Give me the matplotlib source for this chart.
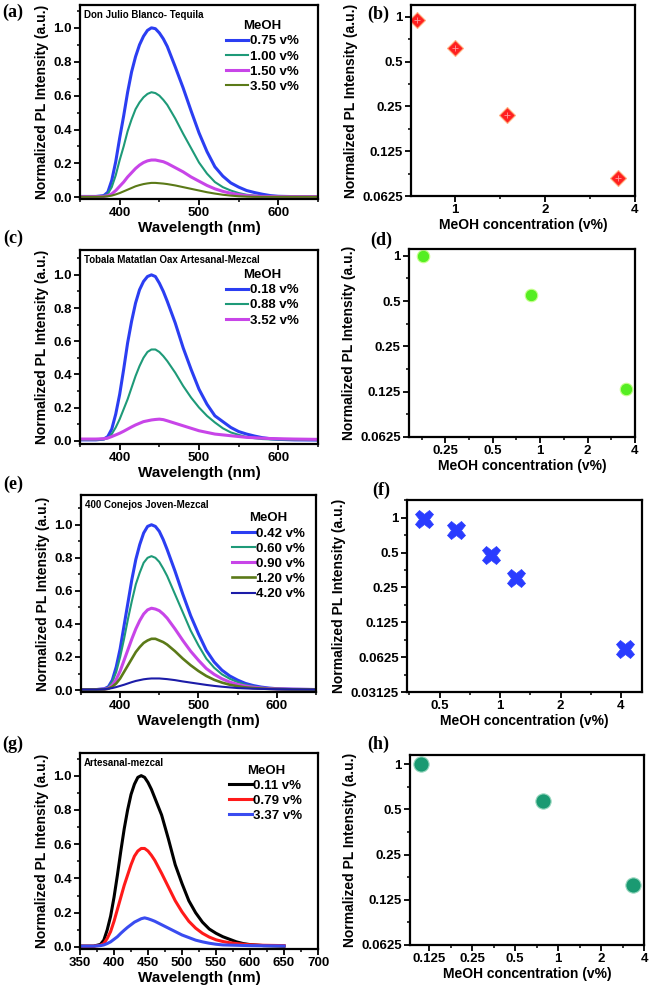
#!/usr/bin/env python3
# plot.py: PL quenching of spirits vs MeOH content (spectra + log-log intensity)

import matplotlib
matplotlib.use("Agg")
import matplotlib.pyplot as plt
from matplotlib.ticker import MultipleLocator, FixedLocator, NullFormatter

# ---- data ----
wl = [350, 360, 370, 380, 385, 390, 395, 400, 405, 410, 415, 420, 425, 430, 435, 440, 445, 450,
      455, 460, 470, 480, 490, 500, 510, 520, 530, 540, 550, 560, 570, 580, 590, 600, 620, 650]

# (a) Don Julio Blanco - Tequila
a_labels = ['0.75 v%', '1.00 v%', '1.50 v%', '3.50 v%']
a_075 = [0.005, 0.005, 0.005, 0.01, 0.03, 0.10, 0.21, 0.35, 0.48, 0.62, 0.74, 0.83, 0.90, 0.95, 0.985, 1.0, 0.995, 0.97,
         0.935, 0.89, 0.77, 0.645, 0.51, 0.38, 0.27, 0.18, 0.125, 0.085, 0.06, 0.04, 0.028, 0.018, 0.01, 0.006, 0.004, 0.003]
a_100 = [0.005, 0.005, 0.005, 0.008, 0.02, 0.06, 0.13, 0.22, 0.30, 0.39, 0.46, 0.52, 0.56, 0.59, 0.61, 0.62, 0.615, 0.60,
         0.575, 0.545, 0.465, 0.375, 0.29, 0.205, 0.14, 0.09, 0.06, 0.04, 0.025, 0.015, 0.01, 0.006, 0.005, 0.004, 0.004, 0.003]
a_150 = [0.004, 0.004, 0.004, 0.005, 0.01, 0.02, 0.04, 0.065, 0.09, 0.12, 0.145, 0.17, 0.19, 0.205, 0.215, 0.22, 0.22, 0.215,
         0.21, 0.20, 0.175, 0.15, 0.12, 0.095, 0.07, 0.05, 0.035, 0.024, 0.016, 0.01, 0.007, 0.005, 0.005, 0.004, 0.004, 0.004]
a_350 = [0.003, 0.003, 0.003, 0.004, 0.006, 0.01, 0.017, 0.025, 0.035, 0.045, 0.055, 0.065, 0.072, 0.078, 0.082, 0.085, 0.085, 0.083,
         0.081, 0.078, 0.07, 0.06, 0.05, 0.04, 0.03, 0.022, 0.015, 0.01, 0.006, 0.004, 0.003, 0.003, 0.003, 0.003, 0.003, 0.003]

# (c) Tobala Matatlan Oax Artesanal - Mezcal
c_labels = ['0.18 v%', '0.88 v%', '3.52 v%']
c_018 = [0.005, 0.005, 0.005, 0.01, 0.025, 0.07, 0.16, 0.28, 0.43, 0.59, 0.72, 0.83, 0.91, 0.96, 0.99, 1.0, 0.99, 0.95,
         0.90, 0.84, 0.71, 0.56, 0.43, 0.31, 0.22, 0.15, 0.115, 0.08, 0.055, 0.04, 0.028, 0.018, 0.012, 0.008, 0.005, 0.004]
c_088 = [0.005, 0.005, 0.005, 0.008, 0.015, 0.04, 0.08, 0.13, 0.19, 0.25, 0.32, 0.39, 0.45, 0.50, 0.535, 0.55, 0.55, 0.535,
         0.51, 0.48, 0.41, 0.33, 0.26, 0.20, 0.15, 0.11, 0.075, 0.05, 0.035, 0.022, 0.015, 0.01, 0.008, 0.007, 0.005, 0.004]
c_352 = [0.01, 0.01, 0.01, 0.012, 0.016, 0.025, 0.035, 0.045, 0.057, 0.07, 0.083, 0.095, 0.105, 0.115, 0.12, 0.125, 0.128, 0.13,
         0.127, 0.12, 0.105, 0.09, 0.075, 0.06, 0.05, 0.04, 0.035, 0.03, 0.025, 0.02, 0.018, 0.015, 0.013, 0.012, 0.01, 0.008]

# (e) 400 Conejos Joven - Mezcal
e_labels = ['0.42 v%', '0.60 v%', '0.90 v%', '1.20 v%', '4.20 v%']
e_042 = [0.003, 0.003, 0.003, 0.008, 0.02, 0.06, 0.14, 0.25, 0.39, 0.53, 0.67, 0.79, 0.88, 0.95, 0.99, 1.0, 0.99, 0.96,
         0.91, 0.85, 0.72, 0.58, 0.45, 0.34, 0.24, 0.17, 0.12, 0.085, 0.06, 0.04, 0.027, 0.018, 0.012, 0.008, 0.005, 0.003]
e_060 = [0.003, 0.003, 0.003, 0.006, 0.016, 0.05, 0.11, 0.20, 0.31, 0.43, 0.54, 0.64, 0.71, 0.77, 0.80, 0.81, 0.80, 0.775,
         0.735, 0.69, 0.58, 0.47, 0.36, 0.27, 0.19, 0.135, 0.095, 0.068, 0.048, 0.032, 0.022, 0.015, 0.01, 0.007, 0.004, 0.003]
e_090 = [0.003, 0.003, 0.003, 0.005, 0.01, 0.03, 0.065, 0.115, 0.18, 0.245, 0.31, 0.37, 0.42, 0.46, 0.485, 0.495, 0.49, 0.48,
         0.46, 0.435, 0.37, 0.30, 0.235, 0.18, 0.13, 0.095, 0.068, 0.048, 0.034, 0.024, 0.017, 0.012, 0.009, 0.007, 0.005, 0.003]
e_120 = [0.003, 0.003, 0.003, 0.004, 0.008, 0.02, 0.04, 0.07, 0.11, 0.15, 0.19, 0.23, 0.26, 0.285, 0.30, 0.31, 0.31, 0.30,
         0.29, 0.275, 0.235, 0.19, 0.15, 0.115, 0.085, 0.062, 0.045, 0.032, 0.023, 0.016, 0.012, 0.009, 0.007, 0.006, 0.004, 0.003]
e_420 = [0.003, 0.003, 0.003, 0.005, 0.008, 0.012, 0.018, 0.025, 0.032, 0.04, 0.048, 0.055, 0.06, 0.065, 0.068, 0.07, 0.07, 0.07,
         0.068, 0.066, 0.06, 0.052, 0.045, 0.038, 0.031, 0.025, 0.02, 0.016, 0.012, 0.01, 0.008, 0.007, 0.006, 0.005, 0.004, 0.003]

# (g) Artesanal - mezcal
g_labels = ['0.11 v%', '0.79 v%', '3.37 v%']
g_011 = [0.005, 0.005, 0.005, 0.015, 0.04, 0.10, 0.18, 0.29, 0.42, 0.56, 0.69, 0.80, 0.89, 0.95, 0.99, 1.0, 0.99, 0.96,
         0.92, 0.87, 0.77, 0.63, 0.48, 0.37, 0.27, 0.20, 0.145, 0.105, 0.08, 0.06, 0.045, 0.03, 0.02, 0.014, 0.008, 0.005]
g_079 = [0.005, 0.005, 0.005, 0.01, 0.02, 0.05, 0.09, 0.15, 0.22, 0.29, 0.36, 0.42, 0.48, 0.53, 0.56, 0.575, 0.575, 0.56,
         0.535, 0.505, 0.43, 0.35, 0.27, 0.205, 0.15, 0.11, 0.08, 0.058, 0.042, 0.032, 0.025, 0.02, 0.016, 0.013, 0.01, 0.008]
g_337 = [0.005, 0.005, 0.005, 0.008, 0.012, 0.02, 0.03, 0.045, 0.06, 0.08, 0.098, 0.115, 0.13, 0.145, 0.155, 0.165, 0.17, 0.165,
         0.158, 0.15, 0.13, 0.11, 0.09, 0.07, 0.055, 0.04, 0.03, 0.022, 0.016, 0.012, 0.011, 0.01, 0.009, 0.008, 0.007, 0.006]

# peak intensity vs MeOH concentration
b_conc = [0.75, 1.0, 1.5, 3.5]
b_int = [0.95, 0.62, 0.22, 0.083]
d_conc = [0.18, 0.88, 3.52]
d_int = [1.0, 0.55, 0.13]
f_conc = [0.42, 0.60, 0.90, 1.20, 4.20]
f_int = [0.97, 0.78, 0.48, 0.30, 0.073]
h_conc = [0.11, 0.79, 3.37]
h_int = [1.0, 0.57, 0.157]

log_yticks = [0.03125, 0.0625, 0.125, 0.25, 0.5, 1]
log_ylabels = ['0.03125', '0.0625', '0.125', '0.25', '0.5', '1']
log_xticks = [0.125, 0.25, 0.5, 1, 2, 4]
log_xlabels = ['0.125', '0.25', '0.5', '1', '2', '4']

SANS = 'Liberation Sans'
YLABEL = 'Normalized PL Intensity (a.u.)'

plt.rcParams['font.family'] = SANS
plt.rcParams['font.weight'] = 'bold'
plt.rcParams['axes.labelweight'] = 'bold'
plt.rcParams['axes.linewidth'] = 1.6


def style_ticks(ax):
    ax.tick_params(which='major', direction='out', length=4, width=1.3, labelsize=9.5, pad=2)
    ax.tick_params(which='minor', direction='out', length=2.5, width=1.1)
    for lab in ax.get_xticklabels() + ax.get_yticklabels():
        lab.set_fontweight('bold')


def spectrum_panel(ax, curves, labels, colors, widths, title, ylim, leg_xy, xmax=650, xstep=100):
    for y, lab, col, lw in zip(curves, labels, colors, widths):
        ax.plot(wl, y, color=col, lw=lw, label=lab)
    ax.set_xlim(350, xmax)
    ax.set_ylim(*ylim)
    ax.xaxis.set_major_locator(MultipleLocator(xstep))
    ax.xaxis.set_minor_locator(MultipleLocator(xstep / 2))
    ax.yaxis.set_major_locator(MultipleLocator(0.2))
    ax.yaxis.set_minor_locator(MultipleLocator(0.1))
    ax.yaxis.set_major_formatter(plt.FormatStrFormatter('%.1f'))
    ax.set_xlabel('Wavelength (nm)', fontsize=11, labelpad=1)
    ax.set_ylabel(YLABEL, fontsize=10, labelpad=3)
    ax.text(0.017, 0.975, title, transform=ax.transAxes, ha='left', va='top',
            fontsize=7, fontweight='bold')
    leg = ax.legend(loc='upper left', bbox_to_anchor=leg_xy, frameon=False, title='MeOH',
                    handlelength=1.7, handletextpad=0.1, labelspacing=0.22, borderpad=0,
                    prop={'family': SANS, 'weight': 'bold', 'size': 9.5})
    leg.get_title().set_fontweight('bold')
    leg.get_title().set_fontsize(9.5)
    style_ticks(ax)


def scatter_panel(ax, x, y, xlim, ylim, marker_kw):
    ax.plot(x, y, ls='none', **marker_kw)
    ax.set_xscale('log', base=2)
    ax.set_yscale('log', base=2)
    ax.set_xlim(*xlim)
    ax.set_ylim(*ylim)
    xt = [(t, l) for t, l in zip(log_xticks, log_xlabels) if xlim[0] <= t <= xlim[1] * 1.001]
    yt = [(t, l) for t, l in zip(log_yticks, log_ylabels) if ylim[0] * 0.999 <= t <= ylim[1]]
    ax.set_xticks([t for t, _ in xt], [l for _, l in xt])
    ax.set_yticks([t for t, _ in yt], [l for _, l in yt])
    ax.xaxis.set_minor_locator(FixedLocator([t * 2 ** 0.5 for t in [0.0625] + log_xticks]))
    ax.yaxis.set_minor_locator(FixedLocator([t * 2 ** 0.5 for t in [0.015625] + log_yticks]))
    ax.xaxis.set_minor_formatter(NullFormatter())
    ax.yaxis.set_minor_formatter(NullFormatter())
    ax.set_xlabel('MeOH concentration (v%)', fontsize=10, labelpad=1)
    ax.set_ylabel(YLABEL, fontsize=10, labelpad=3)
    style_ticks(ax)


def main():
    fig = plt.figure(figsize=(6.5, 9.92), dpi=100)

    ax_a = fig.add_axes([0.1231, 0.7994, 0.3662, 0.1956])
    ax_b = fig.add_axes([0.6323, 0.8024, 0.3446, 0.1925])
    ax_c = fig.add_axes([0.1231, 0.5524, 0.3662, 0.1956])
    ax_d = fig.add_axes([0.6292, 0.5595, 0.3477, 0.1895])
    ax_e = fig.add_axes([0.1246, 0.3024, 0.3615, 0.1986])
    ax_f = fig.add_axes([0.6262, 0.3024, 0.3615, 0.1935])
    ax_g = fig.add_axes([0.1231, 0.0433, 0.3662, 0.1976])
    ax_h = fig.add_axes([0.6308, 0.0474, 0.3600, 0.1915])

    blue = '#2b3ef2'
    teal = '#1e9a78'
    magenta = '#c845e8'
    olive = '#5b7a18'
    navy = '#1c1ca8'

    spectrum_panel(ax_a, [a_075, a_100, a_150, a_350], a_labels,
                   [blue, teal, magenta, olive], [2.2, 1.5, 2.2, 1.5],
                   'Don Julio Blanco- Tequila', (-0.01, 1.135), (0.585, 0.955))
    spectrum_panel(ax_c, [c_018, c_088, c_352], c_labels,
                   [blue, teal, magenta], [2.2, 1.5, 2.2],
                   'Tobala Matatlan Oax Artesanal-Mezcal', (-0.02, 1.15), (0.585, 0.935))
    spectrum_panel(ax_e, [e_042, e_060, e_090, e_120, e_420], e_labels,
                   [blue, teal, magenta, olive, navy], [2.2, 1.5, 2.2, 1.9, 1.5],
                   '400 Conejos Joven-Mezcal', (-0.012, 1.18), (0.615, 0.945))
    spectrum_panel(ax_g, [g_011, g_079, g_337], g_labels,
                   ['black', '#ff1a1a', '#3a4cf0'], [2.2, 2.2, 2.2],
                   'Artesanal-mezcal', (-0.012, 1.132), (0.6, 0.975), xmax=700, xstep=50)

    scatter_panel(ax_b, b_conc, b_int, (0.714, 4.0), (0.0625, 1.2),
                  dict(marker='D', ms=8, color='#ff2020', mec='#ffb080', mew=0.8))
    ax_b.plot(b_conc, b_int, ls='none', marker='+', ms=4, color='#ff9a9a', mew=0.6)
    scatter_panel(ax_d, d_conc, d_int, (0.147, 4.0), (0.0625, 1.11),
                  dict(marker='o', ms=9, color='#55ee22', mec='#c8ff90', mew=0.8))
    scatter_panel(ax_f, f_conc, f_int, (0.344, 5.09), (0.03125, 1.42),
                  dict(marker='X', ms=13, color='#2a3cff', mec='#2a3cff', mew=0.5))
    scatter_panel(ax_h, h_conc, h_int, (0.092, 4.0), (0.0625, 1.15),
                  dict(marker='o', ms=11, color='#1a9a72', mec='#9ad8c0', mew=0.8))

    # panel letters
    letters = [('(a)', 13, 12), ('(b)', 378, 14), ('(c)', 13, 238), ('(d)', 381, 240),
               ('(e)', 13, 484), ('(f)', 381, 490), ('(g)', 13, 744), ('(h)', 378, 744)]
    for txt, px, py in letters:
        fig.text(px / 650, 1 - py / 992, txt, ha='center', va='center',
                 family='Liberation Serif', fontweight='bold', fontsize=13)

    fig.savefig('out.png', dpi=100)


if __name__ == "__main__":
    main()
